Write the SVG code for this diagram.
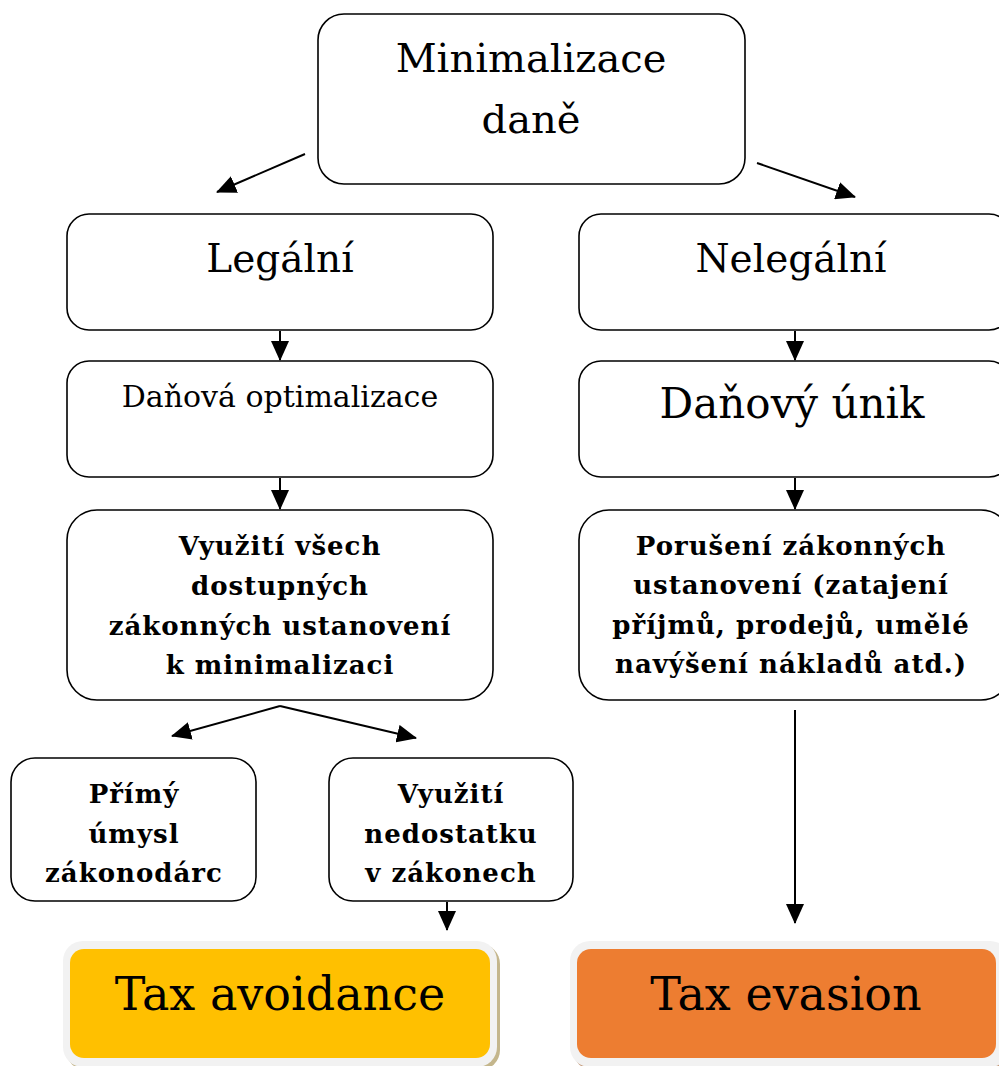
<svg xmlns="http://www.w3.org/2000/svg" width="999" height="1066" viewBox="0 0 999 1066">
<style>
.box{fill:#fff;stroke:#000;stroke-width:1.6}
.t{font-family:"DejaVu Serif","Liberation Serif",serif;fill:#000;text-anchor:middle}
.b{font-weight:bold;font-size:26px;letter-spacing:1px}
.c{stroke:#000;stroke-width:2;fill:none}
</style>
<defs>
<marker id="ah" markerUnits="userSpaceOnUse" markerWidth="20" markerHeight="18" refX="19" refY="9" orient="auto">
<path d="M0,0 L20,9 L0,18 Z" fill="#000"/>
</marker>
</defs>
<rect width="999" height="1066" fill="#fff"/>
<g id="connectors">
<line class="c" x1="305" y1="154" x2="217" y2="192" marker-end="url(#ah)"/>
<line class="c" x1="757" y1="163" x2="855" y2="197" marker-end="url(#ah)"/>
<line class="c" x1="280" y1="331" x2="280" y2="360" marker-end="url(#ah)"/>
<line class="c" x1="795" y1="331" x2="795" y2="360" marker-end="url(#ah)"/>
<line class="c" x1="280" y1="478" x2="280" y2="509" marker-end="url(#ah)"/>
<line class="c" x1="795" y1="478" x2="795" y2="509" marker-end="url(#ah)"/>
<line class="c" x1="280" y1="706" x2="172" y2="736" marker-end="url(#ah)"/>
<line class="c" x1="280" y1="706" x2="416" y2="738" marker-end="url(#ah)"/>
<line class="c" x1="447" y1="902" x2="447" y2="930" marker-end="url(#ah)"/>
<line class="c" x1="795" y1="710" x2="795" y2="923" marker-end="url(#ah)"/>
</g>
<g id="n-min">
<rect class="box" x="318" y="14" width="427" height="170" rx="26"/>
<text class="t" x="531" y="72" font-size="40">Minimalizace</text>
<text class="t" x="531" y="133" font-size="40">daně</text>
</g>
<g id="n-legal">
<rect class="box" x="67" y="214" width="426" height="116" rx="22"/>
<text class="t" x="280" y="272" font-size="39">Legální</text>
</g>
<g id="n-nelegal">
<rect class="box" x="579" y="214" width="432" height="116" rx="22"/>
<text class="t" x="791" y="272" font-size="39">Nelegální</text>
</g>
<g id="n-opt">
<rect class="box" x="67" y="361" width="426" height="116" rx="22"/>
<text class="t" x="280" y="407" font-size="30">Daňová optimalizace</text>
</g>
<g id="n-unik">
<rect class="box" x="579" y="361" width="432" height="116" rx="22"/>
<text class="t" x="792" y="418" font-size="42">Daňový únik</text>
</g>
<g id="n-vyuziti">
<rect class="box" x="67" y="510" width="426" height="190" rx="30"/>
<text class="t b" x="280" y="555">Využití všech</text>
<text class="t b" x="280" y="595">dostupných</text>
<text class="t b" x="280" y="635">zákonných ustanovení</text>
<text class="t b" x="280" y="674">k minimalizaci</text>
</g>
<g id="n-poruseni">
<rect class="box" x="579" y="510" width="432" height="190" rx="30"/>
<text class="t b" x="791" y="555">Porušení zákonných</text>
<text class="t b" x="791" y="594">ustanovení (zatajení</text>
<text class="t b" x="791" y="634">příjmů, prodejů, umělé</text>
<text class="t b" x="791" y="673">navýšení nákladů atd.)</text>
</g>
<g id="n-primy">
<rect class="box" x="11" y="758" width="245" height="143" rx="24"/>
<text class="t b" x="134" y="803">Přímý</text>
<text class="t b" x="134" y="843">úmysl</text>
<text class="t b" x="134" y="882">zákonodárc</text>
</g>
<g id="n-nedostatek">
<rect class="box" x="329" y="758" width="244" height="143" rx="24"/>
<text class="t b" x="451" y="803">Využití</text>
<text class="t b" x="451" y="843">nedostatku</text>
<text class="t b" x="451" y="882">v zákonech</text>
</g>
<g id="n-avoid">
<rect x="66" y="944" width="434" height="126" rx="20" fill="#c4b68c"/>
<rect x="63" y="941" width="434" height="126" rx="20" fill="#f2f2f2"/>
<rect x="70" y="949" width="420" height="109" rx="14" fill="#ffc000"/>
<text class="t" x="280" y="1010" font-size="46">Tax avoidance</text>
</g>
<g id="n-evasion">
<rect x="573" y="944" width="440" height="126" rx="20" fill="#c49a7a"/>
<rect x="570" y="941" width="440" height="126" rx="20" fill="#f2f2f2"/>
<rect x="577" y="949" width="419" height="109" rx="14" fill="#ed7d31"/>
<text class="t" x="786" y="1010" font-size="46">Tax evasion</text>
</g>
</svg>
